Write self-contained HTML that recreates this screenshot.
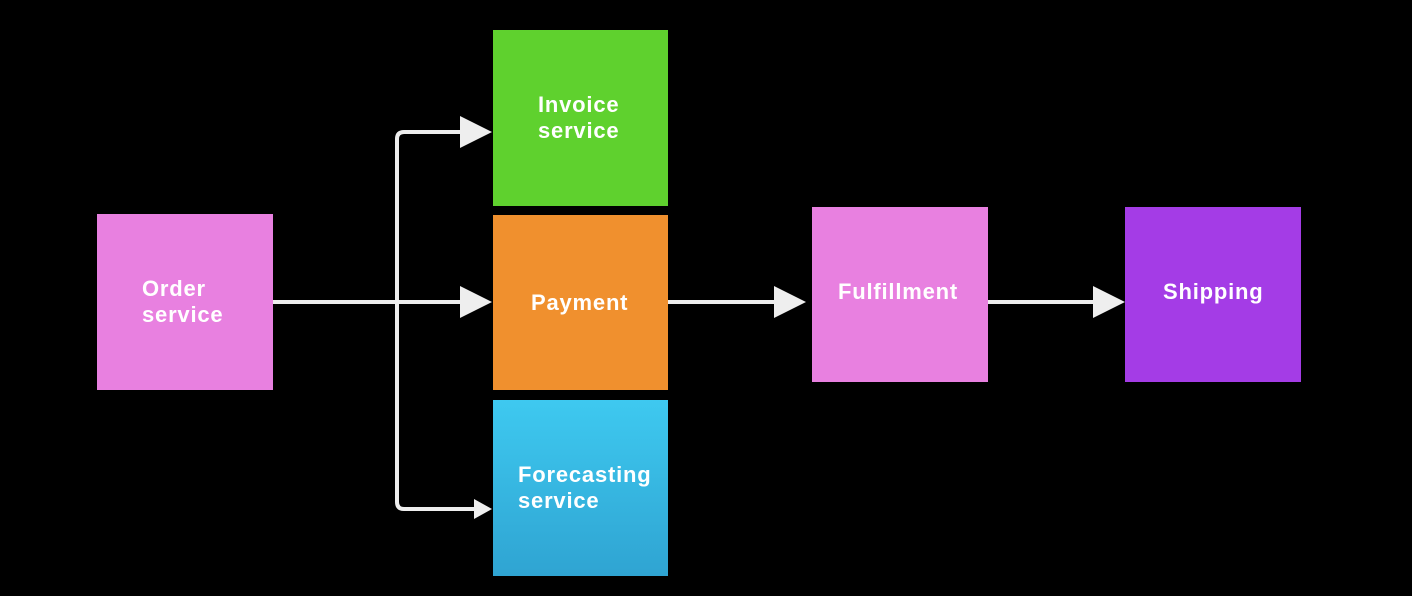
<!DOCTYPE html>
<html><head><style>
body{margin:0;width:1412px;height:596px;background:#000;position:relative;overflow:hidden;font-family:"Liberation Sans",sans-serif}
.b{position:absolute;color:#fff;font-weight:bold;font-size:22px;letter-spacing:0.8px;line-height:26px;box-sizing:border-box;display:flex;align-items:center}
</style></head><body>
<div class="b" style="left:97px;top:214px;width:176px;height:176px;background:#e880e0;padding-left:45px">Order<br>service</div>
<div class="b" style="left:493px;top:30px;width:175px;height:176px;background:#5fd12e;padding-left:45px">Invoice<br>service</div>
<div class="b" style="left:493px;top:215px;width:175px;height:175px;background:#f0902e;padding-left:38px">Payment</div>
<div class="b" style="left:493px;top:400px;width:175px;height:176px;background:linear-gradient(#3ec9f0,#2fa4d2);padding-left:25px">Forecasting<br>service</div>
<div class="b" style="left:812px;top:207px;width:176px;height:175px;background:#e880e0;padding-left:26px;padding-bottom:6px">Fulfillment</div>
<div class="b" style="left:1125px;top:207px;width:176px;height:175px;background:#a43ce6;padding-left:38px;padding-bottom:6px">Shipping</div>
<svg width="1412" height="596" style="position:absolute;left:0;top:0">
<g stroke="#eee" stroke-width="4" fill="none">
<path d="M273 302H462"/>
<path d="M462 132H404Q397 132 397 139V502Q397 509 404 509H476"/>
<path d="M668 302H776"/>
<path d="M988 302H1096"/>
</g>
<g fill="#eee">
<path d="M460 116L492 132L460 148Z"/>
<path d="M460 286L492 302L460 318Z"/>
<path d="M474 499L492 509L474 519Z"/>
<path d="M774 286L806 302L774 318Z"/>
<path d="M1093 286L1125 302L1093 318Z"/>
</g>
</svg>
</body></html>
